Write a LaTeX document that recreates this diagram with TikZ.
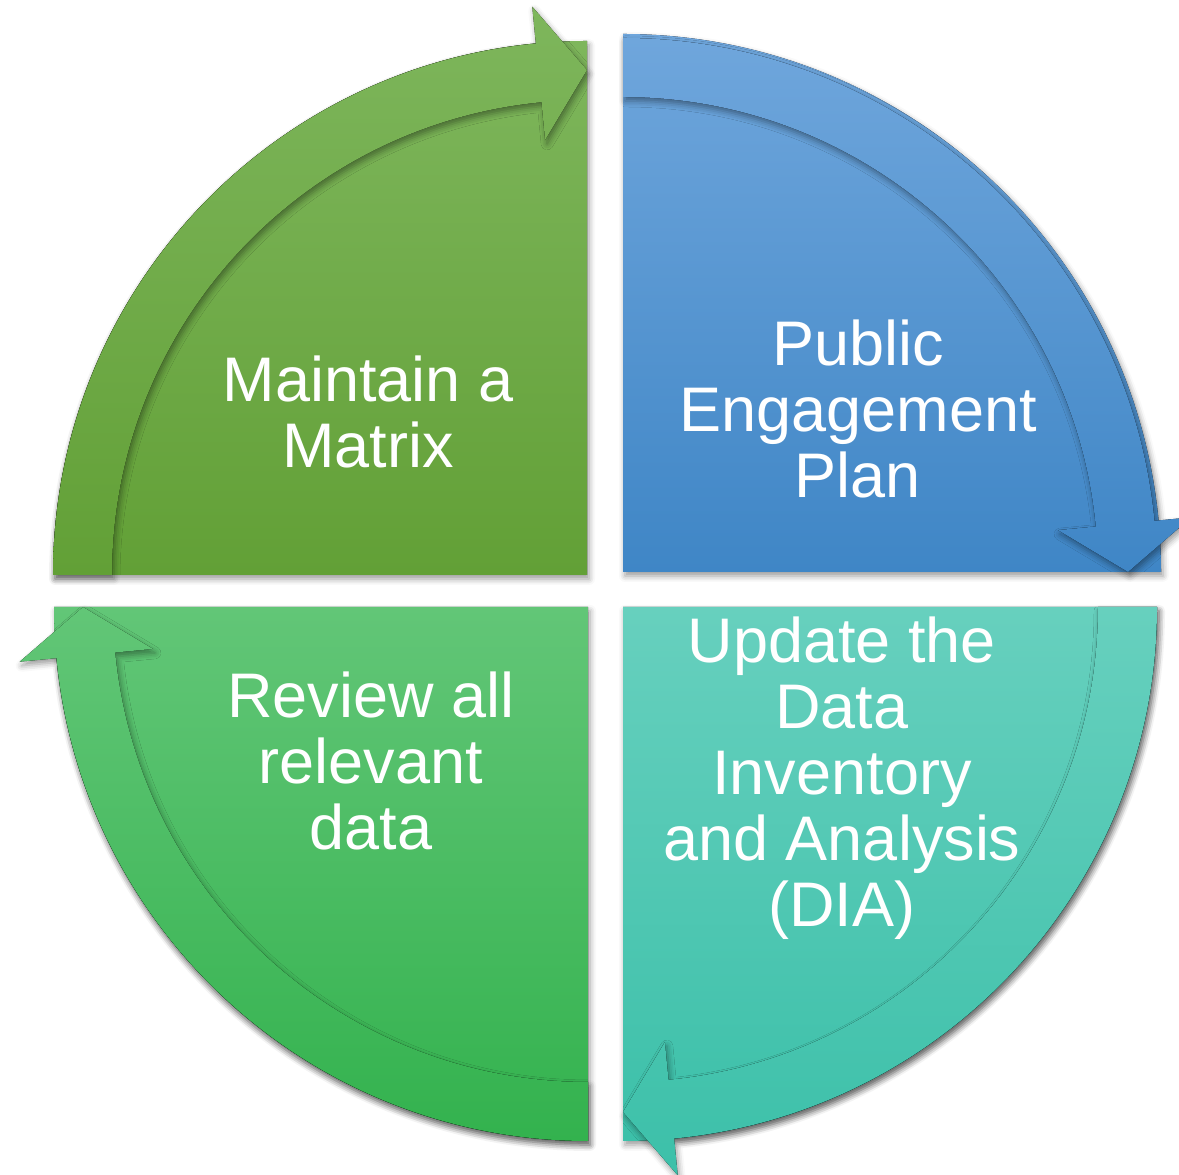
\documentclass[tikz,border=0pt]{standalone}
\usepackage{fontspec}
\setmainfont{Liberation Sans}
\usetikzlibrary{shadows.blur}

\definecolor{tlTop}{RGB}{126,182,92}
\definecolor{tlBot}{RGB}{98,160,54}
\definecolor{trTop}{RGB}{111,166,220}
\definecolor{trBot}{RGB}{63,134,198}
\definecolor{brTop}{RGB}{103,208,190}
\definecolor{brBot}{RGB}{60,192,169}
\definecolor{blTop}{RGB}{98,198,119}
\definecolor{blBot}{RGB}{51,178,78}

\begin{document}
\begin{tikzpicture}[x=1pt,y=1pt,
    quadfill/.style={blur shadow={shadow xshift=2pt,shadow yshift=-4pt,shadow blur radius=6pt,shadow opacity=40}},
    qtext/.style={text=white,align=center,inner sep=0pt,text depth=0pt,anchor=south,font={\fontsize{63}{66}\selectfont}}]
    \useasboundingbox (0,0) rectangle (1179,1175);

    % Quadrants with their curved arrows
    \foreach \cx/\cy/\a/\r/\tc/\bc in {587/600/180/534/tlTop/tlBot, 623/603/90/538/trTop/trBot, 623/568/0/534/brTop/brBot, 588/568/-90/534/blTop/blBot} {
        \pgfmathsetmacro{\b}{\a-90}
        \pgfmathsetmacro{\h}{\a-84.5}
        \begin{scope}[shift={(\cx,\cy)}]
            \fill[quadfill,top color=\tc,bottom color=\bc] (0,0) -- (\a:\r) arc[start angle=\a,end angle=\b,radius=\r] -- cycle;
            \fill[quadfill,top color=\tc,bottom color=\bc] (\a:534) arc[start angle=\a,end angle=\h,radius=534]
                -- (\h:571) -- (\b:505) -- (\h:437) -- (\h:475) arc[start angle=\h,end angle=\a,radius=475] -- cycle;
        \end{scope}
    }

    % Labels
    \node[qtext] (matrix) at (368,707) {Maintain a\\Matrix};
    \node[qtext] (plan) at (858,677) {Public\\Engagement\\Plan};
    \node[qtext] (dia) at (842,248) {Update the\\Data\\Inventory\\and Analysis\\(DIA)};
    \node[qtext] (review) at (371,325) {Review all\\relevant\\data};
\end{tikzpicture}
\end{document}
